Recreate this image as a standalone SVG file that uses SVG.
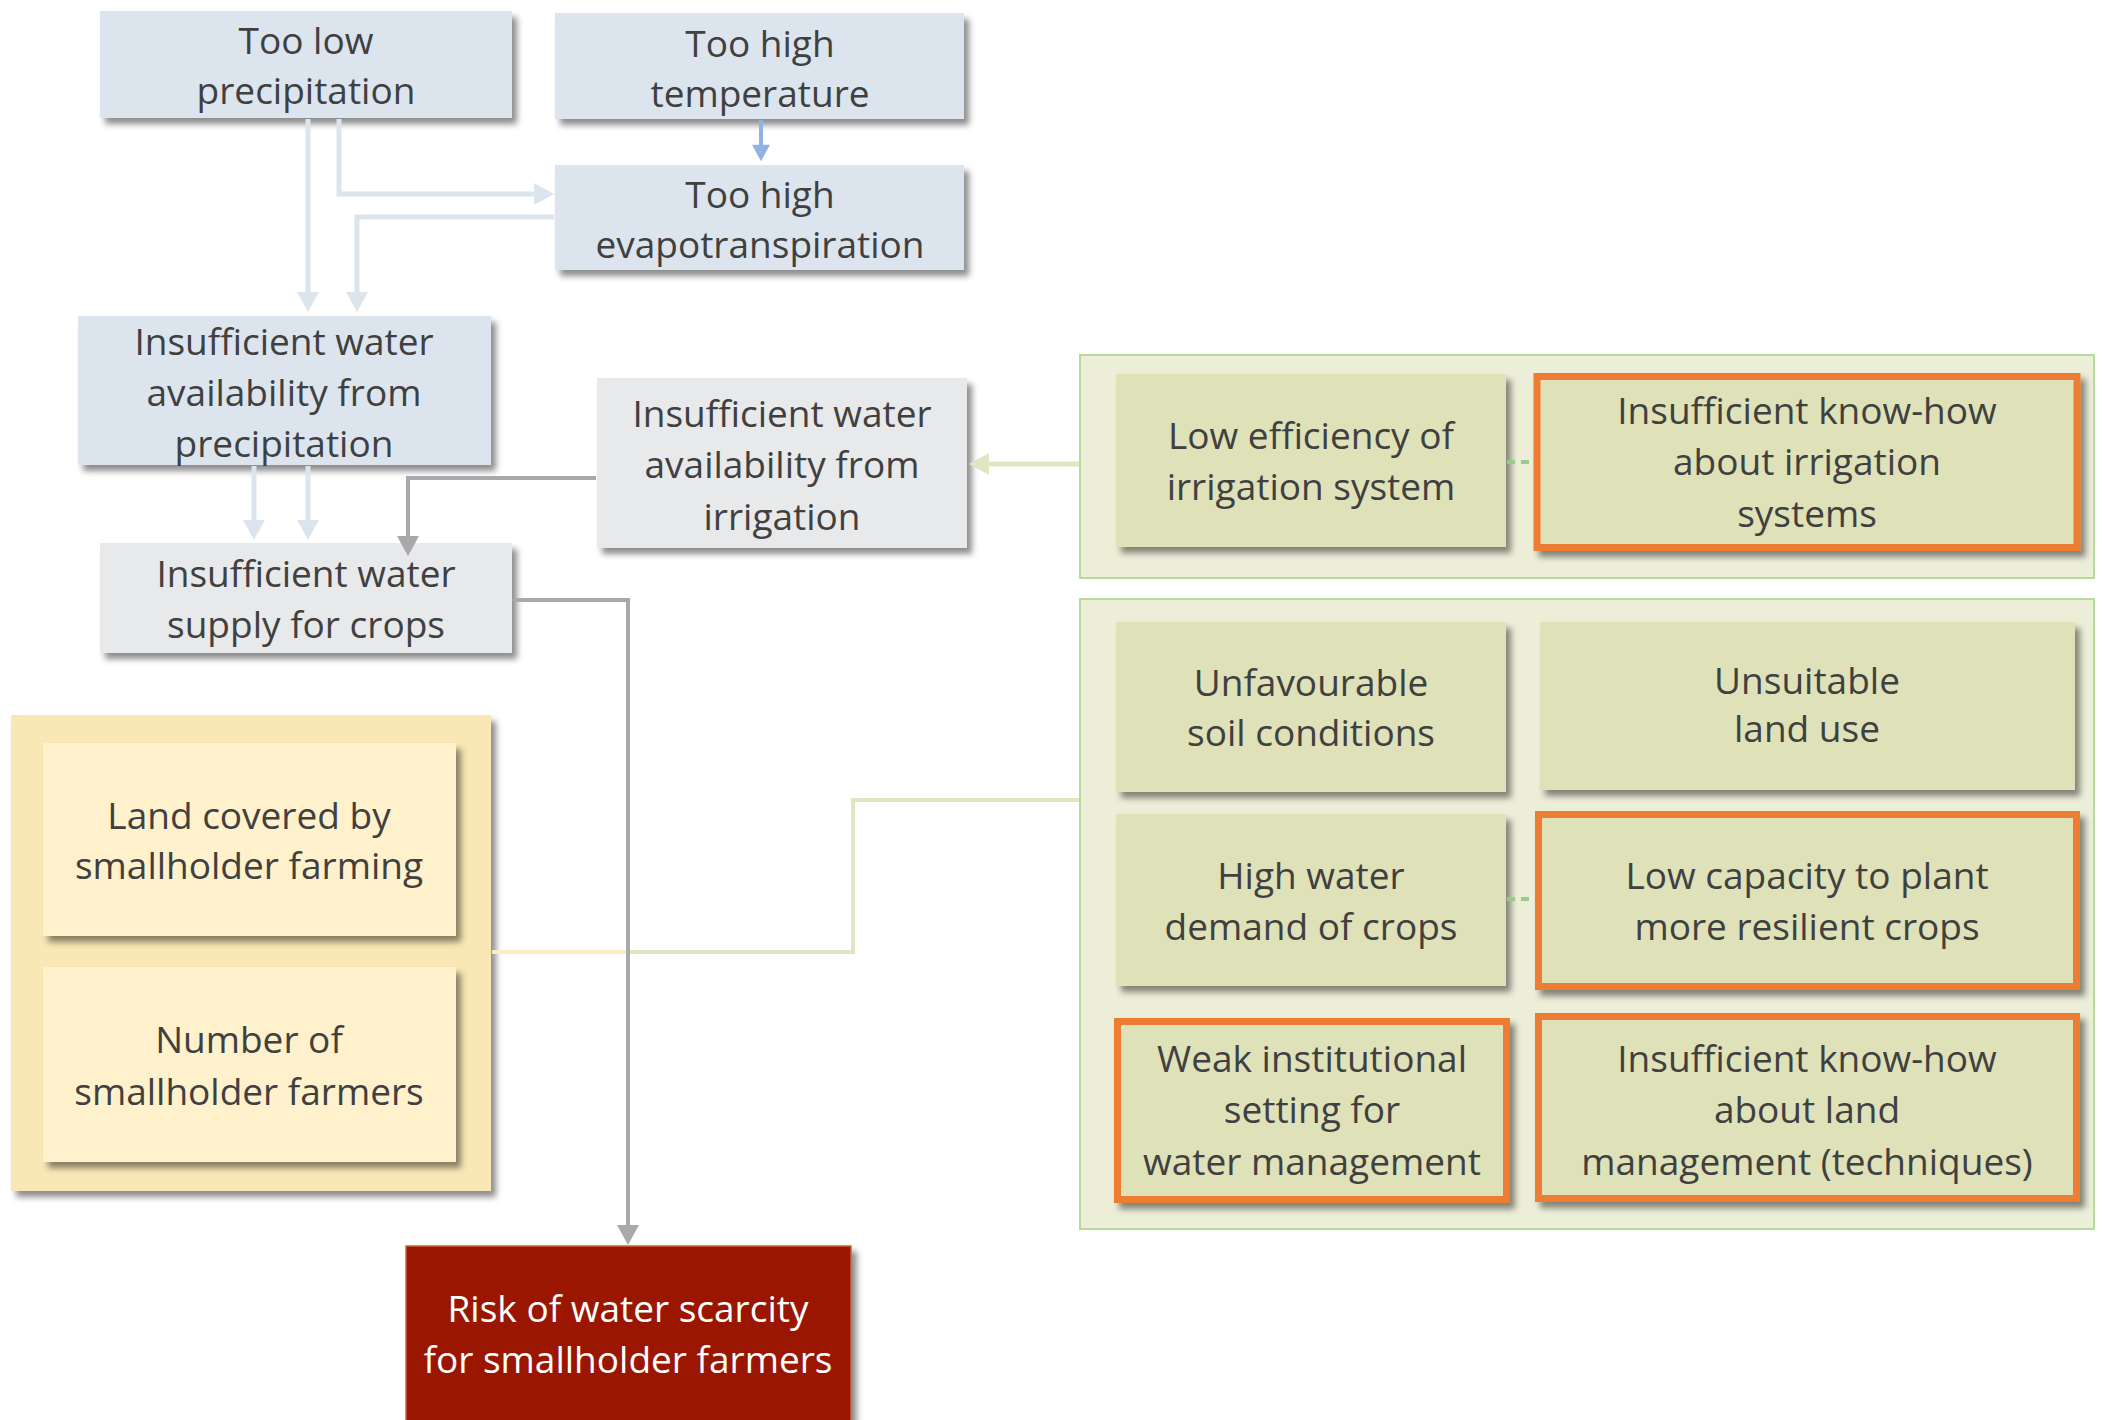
<svg xmlns="http://www.w3.org/2000/svg" width="2102" height="1420" viewBox="0 0 2102 1420">
<style>
text{font-family:"Open Sans","Noto Sans","Liberation Sans",sans-serif;font-size:37px;fill:#404040;text-anchor:middle}
.blue{fill:#DCE5EE}
.gray{fill:#E8E9EA}
.ycont{fill:#F9E8B6}
.ynode{fill:#FFF1CC}
.gcont{fill:#ECEED8;stroke:#B3DB9B;stroke-width:2}
.gnode{fill:#DFE1B8}
.onode{fill:#DFE1B8;stroke:#ED7D31;stroke-width:7}
.risk{fill:#9A1600;stroke:#C8653A;stroke-width:1.5}
.sh{filter:url(#shadow)}
.wt{fill:#FFFFFF}
.lb{fill:none;stroke:#DCE5EE;stroke-width:5}
.bl{fill:none;stroke:#8EB4E3;stroke-width:4}
.gr{fill:none;stroke:#A9A9AB;stroke-width:4}
.gl{fill:none;stroke:#E2E5C1;stroke-width:4}
.yl{fill:none;stroke:#FBEBC0;stroke-width:4}
.dash{fill:none;stroke:#9CC88A;stroke-width:4;stroke-dasharray:8 6}
</style>
<defs>
<filter id="shadow" x="-10%" y="-10%" width="125%" height="130%">
<feDropShadow dx="5" dy="6" stdDeviation="3" flood-color="#000" flood-opacity="0.45"/>
</filter>
<marker id="aLB" viewBox="0 0 20 22" refX="10" refY="11" markerWidth="20" markerHeight="22" markerUnits="userSpaceOnUse" orient="auto"><path d="M0,0 L20,11 L0,22 Z" fill="#DCE5EE"/></marker>
<marker id="aBL" viewBox="0 0 20 22" refX="10" refY="11" markerWidth="18" markerHeight="18" markerUnits="userSpaceOnUse" orient="auto"><path d="M0,0 L20,11 L0,22 Z" fill="#8EB4E3"/></marker>
<marker id="aGR" viewBox="0 0 20 22" refX="10" refY="11" markerWidth="20" markerHeight="22" markerUnits="userSpaceOnUse" orient="auto"><path d="M0,0 L20,11 L0,22 Z" fill="#A9A9AB"/></marker>
<marker id="aGL" viewBox="0 0 20 22" refX="10" refY="11" markerWidth="20" markerHeight="22" markerUnits="userSpaceOnUse" orient="auto"><path d="M0,0 L20,11 L0,22 Z" fill="#E2E5C1"/></marker>
</defs>

<g id="group-smallholder">
<rect class="ycont sh" x="11" y="715" width="480" height="476"/>
</g>
<g id="group-irrigation">
<rect class="gcont" x="1080" y="355" width="1014" height="223"/>
</g>
<g id="group-land">
<rect class="gcont" x="1080" y="599" width="1014" height="630"/>
</g>

<g id="n-low-precip">
<rect class="blue sh" x="100" y="11" width="412" height="107"/>
<text x="306" y="54">Too low</text>
<text x="306" y="104">precipitation</text>
</g>
<g id="n-high-temp">
<rect class="blue sh" x="555" y="13" width="409" height="106"/>
<text x="760" y="57">Too high</text>
<text x="760" y="107">temperature</text>
</g>
<g id="n-evap">
<rect class="blue sh" x="555" y="165" width="409" height="105"/>
<text x="760" y="208">Too high</text>
<text x="760" y="258">evapotranspiration</text>
</g>
<g id="n-precip-avail">
<rect class="blue sh" x="78" y="316" width="413" height="149"/>
<text x="284" y="355">Insufficient water</text>
<text x="284" y="406">availability from</text>
<text x="284" y="457">precipitation</text>
</g>
<g id="n-irrig-avail">
<rect class="gray sh" x="597" y="378" width="370" height="170"/>
<text x="782" y="427">Insufficient water</text>
<text x="782" y="478">availability from</text>
<text x="782" y="530">irrigation</text>
</g>
<g id="n-supply">
<rect class="gray sh" x="100" y="543" width="412" height="110"/>
<text x="306" y="587">Insufficient water</text>
<text x="306" y="638">supply for crops</text>
</g>
<g id="n-land">
<rect class="ynode sh" x="43" y="743" width="413" height="193"/>
<text x="249" y="829">Land covered by</text>
<text x="249" y="879">smallholder farming</text>
</g>
<g id="n-number">
<rect class="ynode sh" x="43" y="967" width="413" height="195"/>
<text x="249" y="1053">Number of</text>
<text x="249" y="1105">smallholder farmers</text>
</g>
<g id="n-risk">
<rect class="risk sh" x="406" y="1246" width="445" height="190"/>
<text class="wt" x="628" y="1322">Risk of water scarcity</text>
<text class="wt" x="628" y="1373">for smallholder farmers</text>
</g>
<g id="n-low-eff">
<rect class="gnode sh" x="1116" y="374" width="390" height="173"/>
<text x="1311" y="449">Low efficiency of</text>
<text x="1311" y="500">irrigation system</text>
</g>
<g id="n-knowhow-irr">
<rect class="onode sh" x="1537" y="376.5" width="540" height="171"/>
<text x="1807" y="424">Insufficient know-how</text>
<text x="1807" y="475">about irrigation</text>
<text x="1807" y="527">systems</text>
</g>
<g id="n-soil">
<rect class="gnode sh" x="1116" y="622" width="390" height="170"/>
<text x="1311" y="696">Unfavourable</text>
<text x="1311" y="746">soil conditions</text>
</g>
<g id="n-landuse">
<rect class="gnode sh" x="1540" y="622" width="535" height="168"/>
<text x="1807" y="694">Unsuitable</text>
<text x="1807" y="742">land use</text>
</g>
<g id="n-highwater">
<rect class="gnode sh" x="1116" y="814" width="390" height="172"/>
<text x="1311" y="889">High water</text>
<text x="1311" y="940">demand of crops</text>
</g>
<g id="n-lowcap">
<rect class="onode sh" x="1538.5" y="814.5" width="538" height="172"/>
<text x="1807" y="889">Low capacity to plant</text>
<text x="1807" y="940">more resilient crops</text>
</g>
<g id="n-weak">
<rect class="onode sh" x="1117.5" y="1021.5" width="389" height="178"/>
<text x="1312" y="1072">Weak institutional</text>
<text x="1312" y="1123">setting for</text>
<text x="1312" y="1175">water management</text>
</g>
<g id="n-knowhow-land">
<rect class="onode sh" x="1538.5" y="1016.5" width="538" height="182"/>
<text x="1807" y="1072">Insufficient know-how</text>
<text x="1807" y="1123">about land</text>
<text x="1807" y="1175">management (techniques)</text>
</g>

<g id="connectors">
<path class="lb" d="M308,119 V302" marker-end="url(#aLB)"/>
<path class="lb" d="M339,119 V194 H544" marker-end="url(#aLB)"/>
<path class="lb" d="M554,217 H357 V302" marker-end="url(#aLB)"/>
<path class="bl" d="M761,120 V153" marker-end="url(#aBL)"/>
<path class="lb" d="M254,466 V530" marker-end="url(#aLB)"/>
<path class="lb" d="M308,466 V530" marker-end="url(#aLB)"/>
<path class="gr" d="M596,478 H408 V546" marker-end="url(#aGR)"/>
<path class="gl" d="M1079,464 H979" marker-end="url(#aGL)" style="stroke-width:5"/>
<path class="yl" d="M492,952 H628"/>
<path class="gl" d="M628,952 H853 V800 H1079"/>
<path class="gr" d="M513,600 H628 V1235" marker-end="url(#aGR)"/>
<path class="dash" d="M1507,462 H1533"/>
<path class="dash" d="M1507,899 H1535"/>
</g>
</svg>
